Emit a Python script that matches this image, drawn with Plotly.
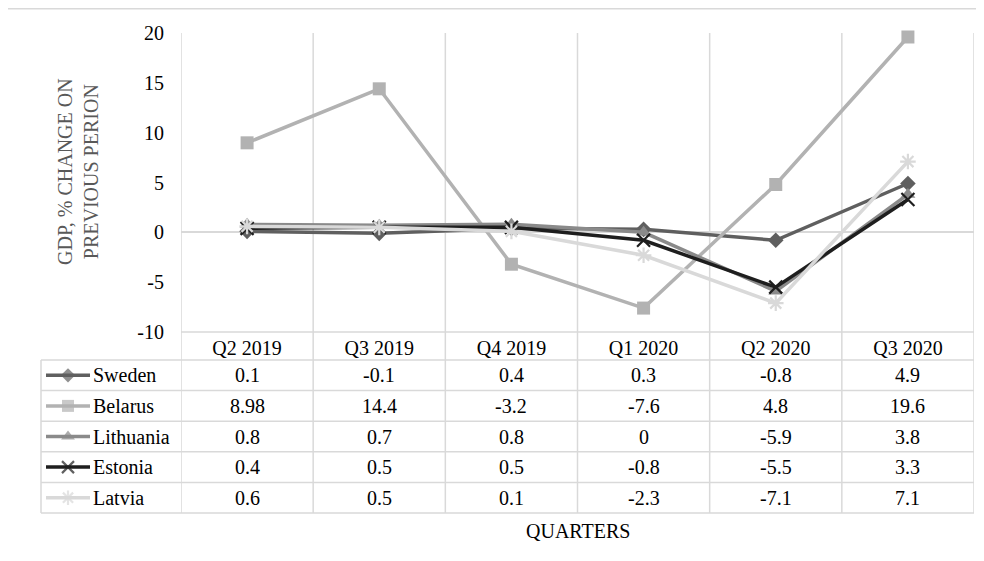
import plotly.graph_objects as go

# ---------------- data ----------------
quarters = ["Q2 2019", "Q3 2019", "Q4 2019", "Q1 2020", "Q2 2020", "Q3 2020"]
countries = ["Sweden", "Belarus", "Lithuania", "Estonia", "Latvia"]
sweden = [0.1, -0.1, 0.4, 0.3, -0.8, 4.9]
belarus = [8.98, 14.4, -3.2, -7.6, 4.8, 19.6]
lithuania = [0.8, 0.7, 0.8, 0, -5.9, 3.8]
estonia = [0.4, 0.5, 0.5, -0.8, -5.5, 3.3]
latvia = [0.6, 0.5, 0.1, -2.3, -7.1, 7.1]
series_values = [sweden, belarus, lithuania, estonia, latvia]
y_ticks = [-10, -5, 0, 5, 10, 15, 20]
y_ticktext = ["-10", "-5", "0", "5", "10", "15", "20"]

# ---------------- styles ----------------
W, H = 984, 561
OFF = 8  # page body margin in the viewer
FONT = "Liberation Serif, Times New Roman, serif"
colors = ["#5f5f5f", "#b2b2b2", "#8a8a8a", "#1e1e1e", "#d9d9d9"]
symbols = ["diamond", "square", "triangle-up", "x-thin-open", "asterisk-open"]
msizes = [12, 13, 13, 13, 13]
GRID = "#d9d9d9"

# target pixel layout (screen coords) converted to figure coords
def px(v):
    return v - OFF

PL, PR, PT, PB = px(181), px(974), px(33), px(332)
LEG_L = px(41)
HEAD_B = px(360)
ROW_H = 30.6
TBL_B = HEAD_B + ROW_H * len(countries)

fig = go.Figure()

# main lines
for name, vals, c, s, ms in zip(countries, series_values, colors, symbols, msizes):
    line_marker = dict(symbol=s, size=ms, color=c, line=dict(color=c, width=2.2 if "open" in s else 0))
    fig.add_trace(go.Scatter(
        x=quarters, y=vals, name=name, mode="lines+markers",
        line=dict(color=c, width=3.5), marker=line_marker,
        showlegend=False, xaxis="x", yaxis="y", cliponaxis=False,
    ))

# legend keys inside table (pixel overlay axes)
for i, (name, c, s, ms) in enumerate(zip(countries, colors, symbols, msizes)):
    yc = HEAD_B + ROW_H * (i + 0.5)
    fig.add_trace(go.Scatter(
        x=[px(46), px(68), px(90)], y=[yc, yc, yc], mode="lines+markers",
        line=dict(color=c, width=3.5),
        marker=dict(symbol=s, size=[0, ms - 1, 0], color=c,
                    line=dict(color=c, width=2.2 if "open" in s else 0)),
        showlegend=False, xaxis="x2", yaxis="y2", hoverinfo="skip",
    ))

shapes = []
# outer chart border (top edge visible inside the page)
shapes.append(dict(type="line", xref="x2", yref="y2", x0=0, x1=W, y0=0.75, y1=0.75,
                   line=dict(color=GRID, width=1.5)))
# vertical grid / table lines at category boundaries
for k in range(len(quarters) + 1):
    shapes.append(dict(type="line", xref="x", yref="y2", x0=k - 0.5, x1=k - 0.5, y0=PT, y1=TBL_B,
                       line=dict(color=GRID, width=1.5), layer="below"))
# table horizontal lines
shapes.append(dict(type="line", xref="x", yref="y2", x0=-0.5, x1=len(quarters) - 0.5, y0=PB, y1=PB,
                   line=dict(color=GRID, width=1.5), layer="below"))
for r in range(len(countries) + 1):
    yy = HEAD_B + ROW_H * r
    shapes.append(dict(type="line", xref="x2", yref="y2", x0=LEG_L, x1=PR, y0=yy, y1=yy,
                       line=dict(color=GRID, width=1.5), layer="below"))
shapes.append(dict(type="line", xref="x2", yref="y2", x0=LEG_L, x1=LEG_L, y0=HEAD_B, y1=TBL_B,
                   line=dict(color=GRID, width=1.5), layer="below"))

annotations = []
for i, (name, vals) in enumerate(zip(countries, series_values)):
    yc = HEAD_B + ROW_H * (i + 0.5)
    annotations.append(dict(x=px(91), y=yc, xref="x2", yref="y2", text=name, showarrow=False,
                            xanchor="left", yanchor="middle", font=dict(family=FONT, size=20, color="#000000")))
    for q, v in zip(quarters, vals):
        annotations.append(dict(x=q, y=yc, xref="x", yref="y2", text=f"{v:g}", showarrow=False,
                                xanchor="center", yanchor="middle",
                                font=dict(family=FONT, size=20, color="#000000")))
# axis titles
annotations.append(dict(x=px(78), y=px(172), xref="x2", yref="y2", text="GDP, % CHANGE ON<br>PREVIOUS PERION",
                        textangle=-90, showarrow=False, xanchor="center", yanchor="middle",
                        font=dict(family=FONT, size=20, color="#595959")))
annotations.append(dict(x=(PL + PR) / 2, y=px(531), xref="x2", yref="y2", text="QUARTERS", showarrow=False,
                        xanchor="center", yanchor="middle", font=dict(family=FONT, size=20, color="#000000")))

fig.update_layout(
    width=W, height=H, margin=dict(l=0, r=0, t=0, b=0, pad=0), autosize=False,
    paper_bgcolor="white", plot_bgcolor="rgba(0,0,0,0)",
    font=dict(family=FONT, size=20, color="#000000"),
    xaxis=dict(domain=[PL / W, PR / W], type="category", categoryorder="array", categoryarray=quarters,
               range=[-0.5, len(quarters) - 0.5], showgrid=False, zeroline=False, showline=False,
               ticks="", tickfont=dict(family=FONT, size=20, color="#000000"),
               ticklabelstandoff=2, anchor="y", automargin=False),
    yaxis=dict(domain=[(H - PB) / H, (H - PT) / H], range=[-10, 20], tickvals=y_ticks, ticktext=y_ticktext,
               showgrid=False, zeroline=True, zerolinecolor=GRID, zerolinewidth=1.5,
               showline=False, ticks="", tickfont=dict(family=FONT, size=20, color="#000000"),
               ticklabelstandoff=16, anchor="x", automargin=False),
    xaxis2=dict(domain=[0, 1], range=[0, W], visible=False, anchor="y2", fixedrange=True, automargin=False),
    yaxis2=dict(domain=[0, 1], range=[H, 0], visible=False, anchor="x2", fixedrange=True, automargin=False),
    shapes=shapes, annotations=annotations,
)

fig.write_html("out.html")
